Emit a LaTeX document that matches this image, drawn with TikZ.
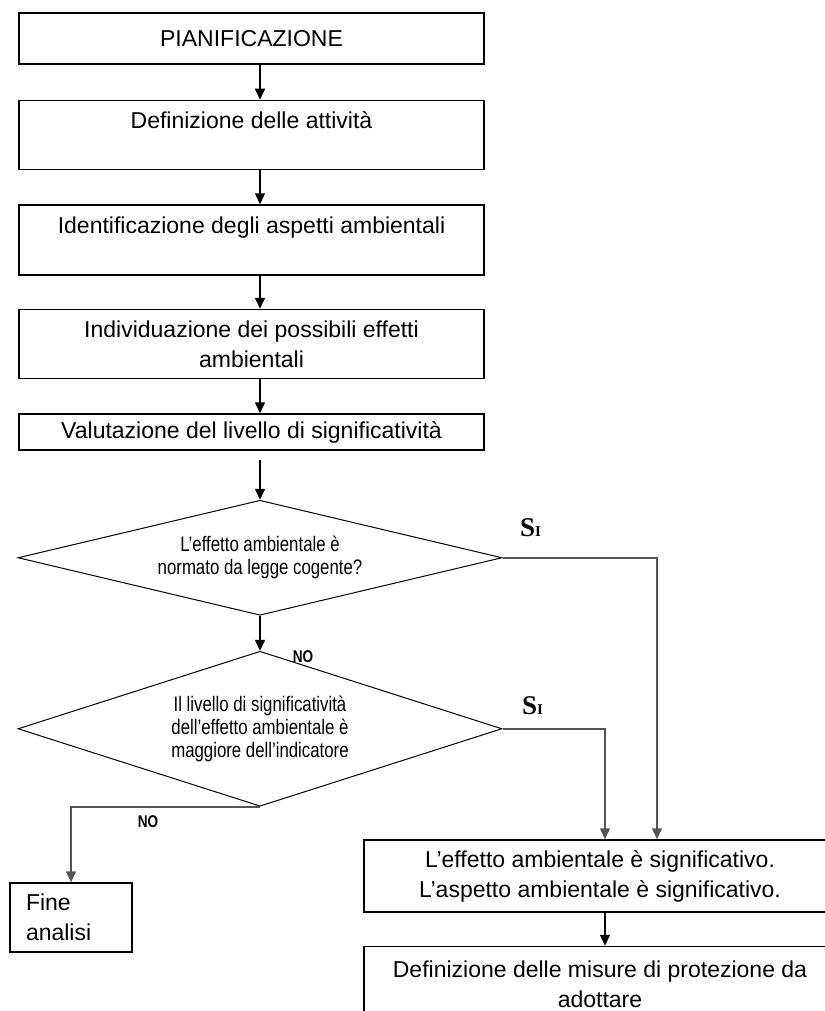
\documentclass[tikz,border=0pt]{standalone}
\usepackage{fontspec}
\setmainfont{Liberation Sans}
\newfontfamily\narrowsf[FakeStretch=0.8]{Liberation Sans}
\newfontfamily\siserif{Liberation Serif}
\usetikzlibrary{shapes.geometric, arrows.meta, positioning}
\definecolor{linegray}{HTML}{555555}
\tikzset{
  stepbox/.style={rectangle, draw, line width=1.5pt, align=center,
    font=\fontsize{23}{30}\selectfont, minimum width=465pt, inner sep=2pt},
  decision/.style={diamond, draw, line width=1pt, aspect=4.2, inner sep=0pt,
    align=center, minimum width=484pt,
    font=\narrowsf\fontsize{21}{23}\selectfont},
  endbox/.style={rectangle, draw, line width=1.5pt, align=left,
    font=\fontsize{23}{30}\selectfont, text width=90pt, inner xsep=16pt,
    minimum height=69pt},
  ar/.style={-{Triangle[length=11pt, width=10pt]}, line width=1.5pt},
  gar/.style={ar, linegray},
  nolab/.style={font=\narrowsf\bfseries\fontsize{17}{17}\selectfont, inner sep=0pt},
  silab/.style={font=\siserif\bfseries\fontsize{27}{27}\selectfont, inner sep=0pt},
}
\newcommand{\sitext}{S{\fontsize{15}{15}\selectfont I}}

\begin{document}
\begin{tikzpicture}[x=1pt, y=-1pt]
  \useasboundingbox (0,0) rectangle (824,1011);

  \node[stepbox, minimum height=51pt] (pian) at (251.5,38.5) {PIANIFICAZIONE};
  \node[stepbox, minimum height=69pt, below=35pt of pian] (attivita) {Definizione delle attività\\~};
  \node[stepbox, minimum height=70pt, below=34pt of attivita] (aspetti) {Identificazione degli aspetti ambientali\\~};
  \node[stepbox, minimum height=69pt, below=33pt of aspetti] (effetti) {Individuazione dei possibili effetti\\ambientali};
  \node[stepbox, minimum height=36pt, below=34pt of effetti] (valut) {Valutazione del livello di significatività};

  \node[decision, minimum height=115pt, below=49pt of valut, xshift=8.5pt] (dec1)
    {L’effetto ambientale è\\normato da legge cogente?};
  \node[decision, minimum height=155pt, below=35pt of dec1] (dec2)
    {Il livello di significatività\\dell’effetto ambientale è\\maggiore dell’indicatore};

  \node[stepbox, minimum width=472pt, minimum height=72pt] (effetto) at (600,876)
    {L’effetto ambientale è significativo.\\L’aspetto ambientale è significativo.};
  \node[stepbox, minimum width=472pt, minimum height=75pt, below=33pt of effetto] (misure)
    {Definizione delle misure di protezione da\\adottare};
  \node[endbox] (fine) at (71,917.5) {Fine\\analisi};

  \node[silab] (si1) at ([xshift=28pt, yshift=30pt]dec1.east) {\sitext};
  \node[silab] (si2) at ([xshift=30pt, yshift=23pt]dec2.east) {\sitext};
  \node[nolab] (no1) at ([xshift=43pt, yshift=-6pt]dec2.north) {NO};
  \node[nolab] (no2) at ([xshift=-112pt, yshift=-15pt]dec2.south) {NO};

  \draw[ar] (pian.south -| dec1.north) -- (attivita.north -| dec1.north);
  \draw[ar] (attivita.south -| dec1.north) -- (aspetti.north -| dec1.north);
  \draw[ar] (aspetti.south -| dec1.north) -- (effetti.north -| dec1.north);
  \draw[ar] (effetti.south -| dec1.north) -- (valut.north -| dec1.north);
  \draw[ar, shorten <=9pt] (valut.south -| dec1.north) -- (dec1.north);
  \draw[ar] (dec1.south) -- (dec2.north);
  \draw[gar] (dec1.east) -| ([xshift=57pt]effetto.north);
  \draw[gar] (dec2.east) -| ([xshift=5pt]effetto.north);
  \draw[gar] (dec2.south) -| (fine.north);
  \draw[ar] ([xshift=5pt]effetto.south) -- ([xshift=5pt]misure.north);
\end{tikzpicture}
\end{document}
